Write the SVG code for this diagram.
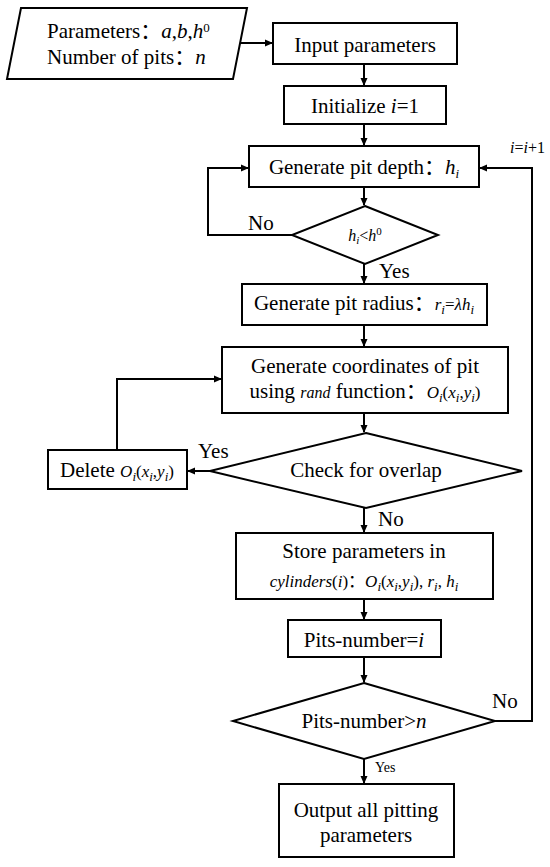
<svg xmlns="http://www.w3.org/2000/svg" width="550" height="867" viewBox="0 0 550 867">
<style>
.s{fill:#fff;stroke:#000;stroke-width:2}
.c{fill:none;stroke:#000;stroke-width:2;marker-end:url(#a)}
text{font-family:"Liberation Serif","Noto Sans CJK SC",serif;font-size:21px;fill:#000}
.m{text-anchor:middle}
.i{font-style:italic}
.sub{font-size:13px;font-style:italic}
</style>
<defs>
<marker id="a" markerWidth="8" markerHeight="8" refX="7" refY="4" orient="auto" markerUnits="userSpaceOnUse">
<path d="M0,0.5 L8,4 L0,7.5 z" fill="#000"/>
</marker>
</defs>
<rect width="550" height="867" fill="#fff"/>
<g id="connectors">
<path class="c" d="M240,43 H272"/>
<path class="c" d="M364,64 V85"/>
<path class="c" d="M364,124 V145"/>
<path class="c" d="M364,187 V205"/>
<path class="c" d="M292,235 H208 V168 H248"/>
<path class="c" d="M364,264 V283"/>
<path class="c" d="M364,325 V346"/>
<path class="c" d="M364,413 V432"/>
<path class="c" d="M210,471 H188"/>
<path class="c" d="M117,450 V379 H221"/>
<path class="c" d="M364,508 V532"/>
<path class="c" d="M364,599 V619"/>
<path class="c" d="M364,657 V682"/>
<path class="c" d="M364,759 V783"/>
<path class="c" d="M495,721 H532 V168 H480"/>
<text x="248" y="230">No</text>
<text x="379" y="278">Yes</text>
<text x="198" y="458">Yes</text>
<text x="378" y="526">No</text>
<text x="492" y="708">No</text>
<text x="375" y="772" style="font-size:14px">Yes</text>
<text x="510" y="153" style="font-size:16px"><tspan class="i">i</tspan>=<tspan class="i">i</tspan>+1</text>
</g>
<g id="input">
<polygon class="s" points="21,8 247,8 233,79 7,79"/>
<text x="47" y="38">Parameters：<tspan class="i">a</tspan>,<tspan class="i">b</tspan>,<tspan class="i">h</tspan><tspan style="font-size:13px" dy="-6">0</tspan></text>
<text x="47" y="64">Number of pits：<tspan class="i">n</tspan></text>
</g>
<g id="inputParams">
<rect class="s" x="273" y="23" width="184" height="41"/>
<text class="m" x="365" y="52">Input parameters</text>
</g>
<g id="init">
<rect class="s" x="284" y="86" width="162" height="38"/>
<text class="m" x="365" y="113">Initialize <tspan class="i">i</tspan>=1</text>
</g>
<g id="depth">
<rect class="s" x="249" y="146" width="230" height="41"/>
<text class="m" x="364" y="174">Generate pit depth：<tspan class="i">h</tspan><tspan class="sub" dy="4">i</tspan></text>
</g>
<g id="checkDepth">
<polygon class="s" points="365,206 438,235 365,264 292,235"/>
<text class="m" x="365" y="241" style="font-size:16px"><tspan class="i">h</tspan><tspan class="sub" style="font-size:11px" dy="3">i</tspan><tspan dy="-3">&lt;</tspan><tspan class="i">h</tspan><tspan style="font-size:11px" dy="-6">0</tspan></text>
</g>
<g id="radius">
<rect class="s" x="242" y="284" width="245" height="41"/>
<text class="m" x="364" y="310">Generate pit radius：<tspan class="i" style="font-size:17px">r</tspan><tspan class="sub" dy="4">i</tspan><tspan dy="-4" style="font-size:17px">=</tspan><tspan class="i" style="font-size:17px">λh</tspan><tspan class="sub" dy="4">i</tspan></text>
</g>
<g id="coords">
<rect class="s" x="222" y="347" width="286" height="66"/>
<text class="m" x="365" y="373">Generate coordinates of pit</text>
<text class="m" x="365" y="398">using <tspan class="i" style="font-size:16px">rand</tspan> function：<tspan class="i" style="font-size:17px">O</tspan><tspan class="sub" dy="4">i</tspan><tspan dy="-4" style="font-size:17px">(</tspan><tspan class="i" style="font-size:17px">x</tspan><tspan class="sub" dy="4">i</tspan><tspan dy="-4" style="font-size:17px">,</tspan><tspan class="i" style="font-size:17px">y</tspan><tspan class="sub" dy="4">i</tspan><tspan dy="-4" style="font-size:17px">)</tspan></text>
</g>
<g id="overlap">
<polygon class="s" points="366,433 522,471 366,508 210,471"/>
<text class="m" x="366" y="477">Check for overlap</text>
</g>
<g id="delete">
<rect class="s" x="48" y="450" width="139" height="39"/>
<text class="m" x="117" y="477">Delete <tspan class="i" style="font-size:17px">O</tspan><tspan class="sub" dy="4">i</tspan><tspan dy="-4" style="font-size:17px">(</tspan><tspan class="i" style="font-size:17px">x</tspan><tspan class="sub" dy="4">i</tspan><tspan dy="-4" style="font-size:17px">,</tspan><tspan class="i" style="font-size:17px">y</tspan><tspan class="sub" dy="4">i</tspan><tspan dy="-4" style="font-size:17px">)</tspan></text>
</g>
<g id="store">
<rect class="s" x="236" y="533" width="257" height="66"/>
<text class="m" x="364" y="558">Store parameters in</text>
<text class="m" x="364" y="587" style="font-size:17px"><tspan class="i">cylinders</tspan>(<tspan class="i">i</tspan>)：<tspan class="i">O</tspan><tspan class="sub" dy="4">i</tspan><tspan dy="-4">(</tspan><tspan class="i">x</tspan><tspan class="sub" dy="4">i</tspan><tspan dy="-4">,</tspan><tspan class="i">y</tspan><tspan class="sub" dy="4">i</tspan><tspan dy="-4">), </tspan><tspan class="i">r</tspan><tspan class="sub" dy="4">i</tspan><tspan dy="-4">, </tspan><tspan class="i">h</tspan><tspan class="sub" dy="4">i</tspan></text>
</g>
<g id="pitsNumber">
<rect class="s" x="288" y="620" width="153" height="37"/>
<text class="m" x="364" y="647">Pits-number=<tspan class="i">i</tspan></text>
</g>
<g id="checkPits">
<polygon class="s" points="364,683 495,721 364,759 233,721"/>
<text class="m" x="364" y="728">Pits-number&gt;<tspan class="i">n</tspan></text>
</g>
<g id="output">
<rect class="s" x="279" y="784" width="175" height="73"/>
<text class="m" x="366" y="817">Output all pitting</text>
<text class="m" x="366" y="842">parameters</text>
</g>
</svg>
